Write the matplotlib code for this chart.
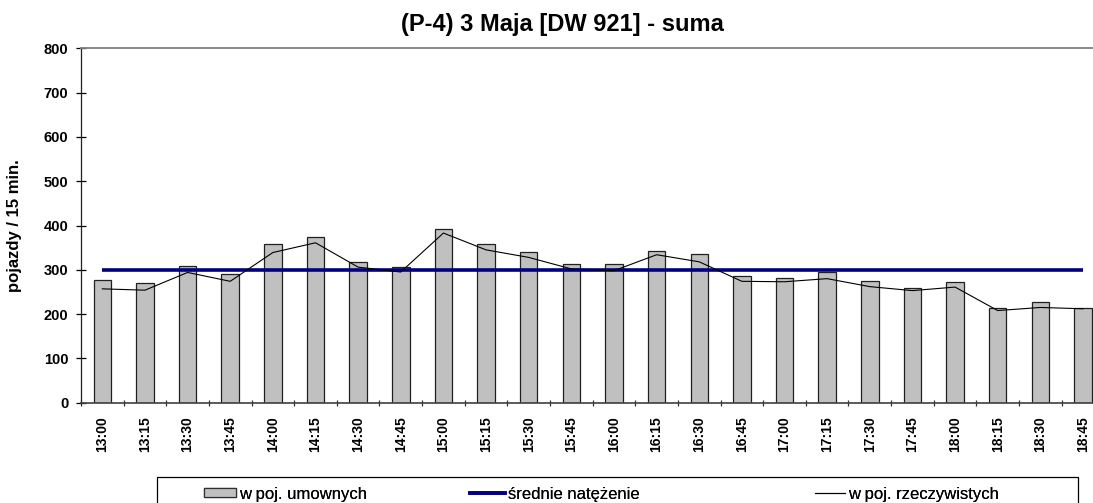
import matplotlib
matplotlib.use("Agg")
import matplotlib.pyplot as plt
from matplotlib.patches import Rectangle, Patch
from matplotlib.lines import Line2D
import numpy as np

plt.rcParams['font.family'] = ['Liberation Sans', 'DejaVu Sans']

categories = ["13:00", "13:15", "13:30", "13:45", "14:00", "14:15", "14:30", "14:45",
              "15:00", "15:15", "15:30", "15:45", "16:00", "16:15", "16:30", "16:45",
              "17:00", "17:15", "17:30", "17:45", "18:00", "18:15", "18:30", "18:45"]
umownych = [276, 270, 308, 290, 358, 374, 317, 306, 391, 358, 340, 312,
            312, 343, 335, 287, 281, 296, 275, 259, 273, 214, 227, 213]
rzeczywistych = [257, 254, 294, 274, 339, 361, 306, 295, 383, 345, 328, 302,
                 298, 334, 318, 274, 273, 280, 262, 253, 261, 208, 215, 212]
srednie_value = 300
yticks = [0, 100, 200, 300, 400, 500, 600, 700, 800]

title = "(P-4) 3 Maja [DW 921] - suma"
ylabel = "pojazdy / 15 min."
legend_labels = ["w poj. umownych", "średnie natężenie", "w poj. rzeczywistych"]

W, H = 1093, 503
fig = plt.figure(figsize=(W / 100, H / 100), dpi=100)
ax_left, ax_right, ax_top, ax_bottom = 81, 1104.3, 48.3, 402.7
ax = fig.add_axes([ax_left / W, 1 - ax_bottom / H, (ax_right - ax_left) / W, (ax_bottom - ax_top) / H])

x = np.arange(len(categories))
bar_color = "#C0C0C0"
ax.bar(x, umownych, width=0.41, color=bar_color, edgecolor="#202020", linewidth=0.9, zorder=2)
ax.plot(x, [srednie_value] * len(categories), color="#000080", linewidth=2.6, zorder=3,
        solid_capstyle="butt")
ax.plot(x, rzeczywistych, color="black", linewidth=0.8, zorder=4)

ax.set_xlim(-0.5, len(categories) - 0.5)
ax.set_ylim(0, 800)
ax.set_yticks(yticks)
ax.set_yticklabels([str(v) for v in yticks], fontsize=10.5, fontweight="bold")
ax.set_xticks(x)
ax.set_xticklabels(categories, rotation=90, fontsize=10, fontweight="bold")
ax.set_xticks(np.arange(len(categories) + 1) - 0.5, minor=True)
ax.tick_params(axis="x", which="major", length=0, pad=10)
ax.tick_params(axis="x", which="minor", direction="inout", length=5, width=0.9, color="#303030")
ax.tick_params(axis="y", which="major", direction="inout", length=6.5, width=0.9, pad=6)

for side in ["top", "right"]:
    ax.spines[side].set_color("#808080")
    ax.spines[side].set_linewidth(1.3)
ax.spines["left"].set_color("#202020")
ax.spines["left"].set_linewidth(0.9)
ax.spines["bottom"].set_color("#404040")
ax.spines["bottom"].set_linewidth(1.2)

ax.set_ylabel(ylabel, fontsize=12, fontweight="bold")
ax.yaxis.set_label_coords((22 - ax_left) / (ax_right - ax_left), 0.5)

fig.text(562 / W, 1 - 31.5 / H, title, ha="center", va="baseline", fontsize=17, fontweight="bold")

# legend box
fig.patches.append(Rectangle((157 / W, -0.1), (1078 - 157) / W, 0.1 + 1 - 477 / H,
                             transform=fig.transFigure, facecolor="white", edgecolor="black",
                             linewidth=0.9))
leg_fs = 12
handles = [Patch(facecolor=bar_color, edgecolor="#303030", linewidth=0.9),
           Line2D([], [], color="#000080", linewidth=2.6),
           Line2D([], [], color="black", linewidth=0.8)]
starts = [204, 470, 815]
hlens = [1.9, 2.1, 1.8]
for h, lab, sx, hl in zip(handles, legend_labels, starts, hlens):
    lg = fig.legend([h], [lab], loc="center left", bbox_to_anchor=(sx / W, 1 - 494 / H),
                    frameon=False, fontsize=leg_fs, handlelength=hl, handleheight=0.42,
                    handletextpad=0.2, borderpad=0, borderaxespad=0)
    fig.add_artist(lg)

fig.savefig("out.png", dpi=100)
